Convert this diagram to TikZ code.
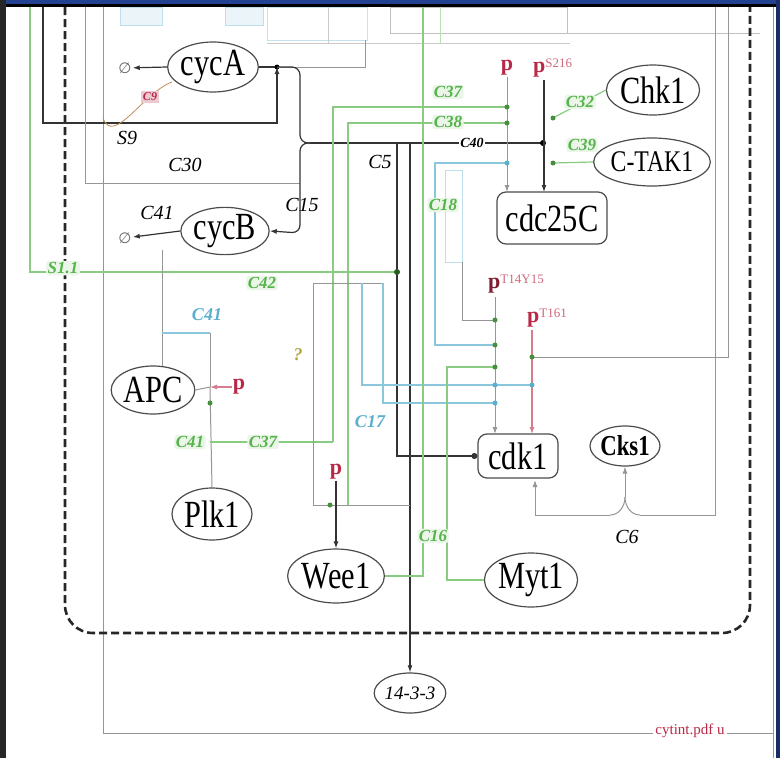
\documentclass[tikz,border=0pt]{standalone}
\usepackage{fontspec}
\usepackage{graphicx}
\setmainfont{Liberation Serif}
\newfontfamily\djv{DejaVu Sans}
\usetikzlibrary{shapes.geometric,arrows.meta}
\definecolor{grn}{RGB}{85,180,75}
\definecolor{cyn}{RGB}{90,175,205}
\definecolor{rd}{RGB}{185,40,70}
\definecolor{gl}{RGB}{150,150,150}
\definecolor{topblue}{RGB}{35,65,145}
\newcommand{\tl}[1]{\scalebox{0.95}[1.2]{#1}}
\begin{document}
\begin{tikzpicture}[x=1pt,y=-1pt,
  ell/.style={draw=black!70, ellipse, line width=1.2pt, inner sep=0pt},
  rbox/.style={draw=black!70, rounded corners=9pt, line width=1.2pt, inner sep=0pt},
  big/.style={font=\fontsize{32}{34}\selectfont},
  gline/.style={draw=gl, line width=1pt},
  bline/.style={draw=black!80, line width=1.2pt},
  gnline/.style={draw=grn!70, line width=1.2pt},
  cyline/.style={draw=cyn!70, line width=1.2pt},
  lab/.style={font=\fontsize{20}{22}\selectfont\itshape, inner sep=1pt},
  glab/.style={text=grn, font=\fontsize{17}{18}\selectfont\bfseries\itshape, fill=grn!12, inner sep=1.5pt, rounded corners=3pt},
  clab/.style={text=cyn, font=\fontsize{18}{19}\selectfont\bfseries\itshape, inner sep=1pt},
  pp/.style={text=rd, font=\fontsize{22}{22}\selectfont\bfseries, inner sep=1pt},
  arr/.style={-{Latex[length=7pt,width=5pt]}},
  dotarr/.style={-{Circle[length=6pt]}},
  gdot/.style={circle, fill=grn!80!black, inner sep=0pt, minimum size=5pt},
  cdot/.style={circle, fill=cyn, inner sep=0pt, minimum size=5pt},
  deg/.style={text=black!60, font=\djv\fontsize{15}{15}\selectfont, inner sep=1pt}]
\useasboundingbox (0,0) rectangle (780,758);
\fill[white] (0,0) rectangle (780,758);

% ---------- frame ----------
\fill[topblue] (0,0) rectangle (780,4);
\fill[black] (0,4) rectangle (780,7);
\fill[black!85] (0,0) rectangle (6,758);
\fill[topblue!70!black] (776,0) rectangle (780,758);

% ---------- faint top boxes ----------
\draw[cyn!40, fill=cyn!12] (120,7) rectangle (162,25);
\draw[cyn!40, fill=cyn!12] (225,7) rectangle (263,25);
\draw[cyn!35, line width=1pt] (267,7) rectangle (367,40);
\draw[gl!60, line width=1pt] (390,7) rectangle (567,33);
\draw[gl!60, line width=1pt] (567,33) -- (760,33);
\draw[gl!50, line width=1pt] (267,43) -- (570,43);
\draw[gl!50] (328,7) -- (328,43);
\draw[grn!40, line width=1pt] (440,7) -- (440,43);

% ---------- outer lines ----------
\draw[gline] (103,7) -- (103,733) -- (773,733);
\draw[gline] (773,7) -- (773,758);
\node[text=rd, fill=white, font=\fontsize{15}{15}\selectfont, inner sep=2pt] (file) at (690,731) {cytint.pdf u};

% ---------- dashed compartment ----------
\draw[line width=2.6pt, black!85, dash pattern=on 8pt off 4pt, rounded corners=28pt]
  (65,7) -- (65,633) -- (750,633) -- (750,7);

% ---------- species ----------
\node[ell, big, minimum width=82pt, minimum height=50pt] (cycA) at (213,67) {\tl{cycA}};
\node[ell, big, minimum width=86pt, minimum height=44pt] (cycB) at (225,231) {\tl{cycB}};
\node[ell, big, minimum width=80pt, minimum height=50pt] (chk1) at (653,90) {\tl{Chk1}};
\node[ell, font=\fontsize{25}{26}\selectfont, minimum width=88pt, minimum height=48pt] (ctak) at (652,162) {\tl{C-TAK1}};
\node[rbox, big, minimum width=110pt, minimum height=52pt] (cdc) at (552,218) {\tl{cdc25C}};
\node[ell, big, minimum width=74pt, minimum height=48pt] (apc) at (153,390) {\tl{APC}};
\node[ell, big, minimum width=80pt, minimum height=52pt] (plk) at (212,514) {\tl{Plk1}};
\node[ell, big, minimum width=88pt, minimum height=54pt] (wee) at (336,576) {\tl{Wee1}};
\node[ell, big, minimum width=88pt, minimum height=54pt] (myt) at (531,580) {\tl{Myt1}};
\node[rbox, big, minimum width=80pt, minimum height=44pt] (cdk) at (518,456) {\tl{cdk1}};
\node[ell, font=\fontsize{24}{25}\selectfont\bfseries, minimum width=70pt, minimum height=40pt] (cks) at (625,446) {\tl{Cks1}};
\node[ell, font=\fontsize{19}{20}\selectfont\itshape, minimum width=68pt, minimum height=40pt] (f143) at (410,693) {14-3-3};

\node[deg] (degA) at (125,68) {∅};
\node[deg] (degB) at (125,238) {∅};

% ---------- phospho labels ----------
\node[pp] (p1) at (507,68) {p};
\node[pp, anchor=west] (p2) at (532,68) {p\raisebox{5pt}{\fontsize{13}{13}\selectfont\mdseries\color{rd!70}S216}};
\node[pp, text=rd!70!black, anchor=west] (p3) at (487,284) {p\raisebox{5pt}{\fontsize{13}{13}\selectfont\mdseries\color{rd!70}T14Y15}};
\node[pp, anchor=west] (p4) at (526,318) {p\raisebox{5pt}{\fontsize{13}{13}\selectfont\mdseries\color{rd!70}T161}};
\node[pp] (p5) at (239,387) {p};
\node[pp] (p6) at (336,472) {p};

% ---------- coordinates ----------
\coordinate (jA) at (277,67);
\coordinate (f15) at (310,143);
\coordinate (c5t) at (397,143);
\coordinate (c40) at (543,143);
\coordinate (cdcL) at (507,192);
\coordinate (cdcR) at (544,192);
\coordinate (apcj) at (210,387);
\coordinate (cdkL) at (495,434);
\coordinate (cdkR) at (532,434);
\coordinate (f6) at (625,497);

% ---------- cycA / cycB ----------
\draw[bline, arr] (cycA.west) -- (degA);
\draw[bline, arr] (cycB.west) -- (degB);
\draw[bline] (cycA.east) -- (jA);
\fill[black] (jA) circle (2.5pt);
\draw[gline] (jA) -- (365,67) -- (365,40);
\draw[bline, arr] (43,7) -- (43,123) -- (277,123) -- (jA);
\draw[gline] (85,7) -- (85,183) -- (300,183);
\draw[bline, rounded corners=8pt] (jA) -- (300,67) -- (300,143) -- (f15);
\draw[bline, rounded corners=8pt, arr] (f15) -- (300,143) -- (300,233) -- (cycB.east);
\draw[draw=orange!40!gl, line width=0.8pt] (103,118) to[out=-70,in=200] (172,82);
\node[text=rd, fill=rd!25, font=\fontsize{12}{12}\selectfont\bfseries\itshape, inner sep=1.5pt] (c9) at (150,97) {C9};

% ---------- C5 / C40 ----------
\draw[bline] (f15) -- (c5t);
\draw[bline, dotarr] (c5t) -- (397,456) -- (cdk.west);
\draw[bline] (c5t) -- (c40);
\fill[black] (c40) circle (3pt);
\node[font=\fontsize{14}{14}\selectfont\bfseries\itshape, fill=white, inner sep=1pt] (c40lab) at (472,143) {C40};
\draw[bline, arr] (410,143) -- (f143.north);

% ---------- cdc25C inputs ----------
\draw[gline, arr] (p1) -- (cdcL);
\draw[bline, arr] (544,80) -- (cdcR);
\draw[gnline] (333,442) -- (333,107) -- (507,107);
\draw[gnline] (348,505) -- (348,123) -- (507,123);
\node[gdot] (d1) at (507,107) {};
\node[gdot] (d2) at (507,123) {};
\draw[gnline] (chk1.west) -- (553,118);
\node[gdot] (d3) at (553,118) {};
\draw[gnline] (ctak.west) -- (553,163);
\node[gdot] (d4) at (553,163) {};
\draw[cyline] (507,163) -- (435,163) -- (435,345) -- (495,345);
\node[cdot] (d5) at (507,163) {};
\draw[cyn!40, line width=1pt] (445,170) rectangle (462,262);
\draw[gline] (462,262) -- (462,320) -- (495,320);

% ---------- S11 line ----------
\draw[gnline] (30,7) -- (30,272) -- (397,272);
\node[circle, fill=grn!50!black, inner sep=0pt, minimum size=6pt] (d6) at (397,272) {};

% ---------- lower left network ----------
\draw[gline] (162,250) -- (162,366);
\draw[cyline] (162,333) -- (210,333);
\draw[gline] (210,333) -- (apcj);
\draw[gline] (apc.east) -- (apcj);
\draw[draw=rd!60, line width=1.1pt, arr] (p5) -- (apcj);
\draw[gline] (apcj) -- (plk.north);
\node[gdot] (d7) at (210,403) {};
\draw[gnline] (210,442) -- (333,442);
\draw[gline] (313,283) -- (313,505) -- (410,505);
\draw[gline] (313,283) -- (383,283);
\node[gdot] (d8) at (330,505) {};
\draw[bline, arr] (p6) -- (wee.north);

% ---------- cdk1 inputs ----------
\draw[cyline] (362,283) -- (362,385) -- (532,385);
\draw[cyline] (383,283) -- (383,403) -- (495,403);
\draw[gnline] (myt.west) -- (447,580) -- (447,367) -- (495,367);
\draw[gnline] (wee.east) -- (423,576) -- (423,7);
\draw[gline, arr] (495,297) -- (cdkL);
\draw[draw=rd!60, line width=1.1pt, arr] (532,330) -- (cdkR);
\draw[gline] (532,357) -- (728,357) -- (728,7);
\node[gdot] (e1) at (495,320) {};
\node[gdot] (e2) at (495,345) {};
\node[gdot] (e3) at (495,367) {};
\node[cdot] (e4) at (495,385) {};
\node[cdot] (e5) at (495,403) {};
\node[gdot] (e6) at (532,357) {};
\node[cdot] (e7) at (532,385) {};

% ---------- C6 complex ----------
\draw[gline, arr] (610,515) -- (535,515) -- (535,480);
\draw[gline] (610,515) to[out=0,in=-90] (f6);
\draw[gline] (640,515) to[out=180,in=-90] (f6);
\draw[gline, arr] (f6) -- (cks.south);
\draw[gline] (640,515) -- (715,515) -- (715,7);

% ---------- labels ----------
\node[lab] (lS9) at (127,138) {S9};
\node[lab] (lC30) at (185,165) {C30};
\node[lab] (lC5) at (380,162) {C5};
\node[lab] (lC15) at (302,205) {C15};
\node[lab] (lC41) at (157,213) {C41};
\node[lab] (lC6) at (627,537) {C6};
\node[glab] (gC37) at (448,92) {C37};
\node[glab] (gC38) at (448,122) {C38};
\node[glab] (gC32) at (580,102) {C32};
\node[glab] (gC39) at (582,145) {C39};
\node[glab] (gC18) at (443,205) {C18};
\node[glab] (gC42) at (262,283) {C42};
\node[glab] (gS11) at (63,268) {S1.1};
\node[glab] (gC41) at (190,442) {C41};
\node[glab] (gC37b) at (263,442) {C37};
\node[glab] (gC16) at (433,536) {C16};
\node[clab] (cC41) at (207,315) {C41};
\node[clab] (cC17) at (370,422) {C17};
\node[text=olive!70, font=\fontsize{18}{18}\selectfont\bfseries\itshape] (q) at (298,355) {?};
\end{tikzpicture}
\end{document}
